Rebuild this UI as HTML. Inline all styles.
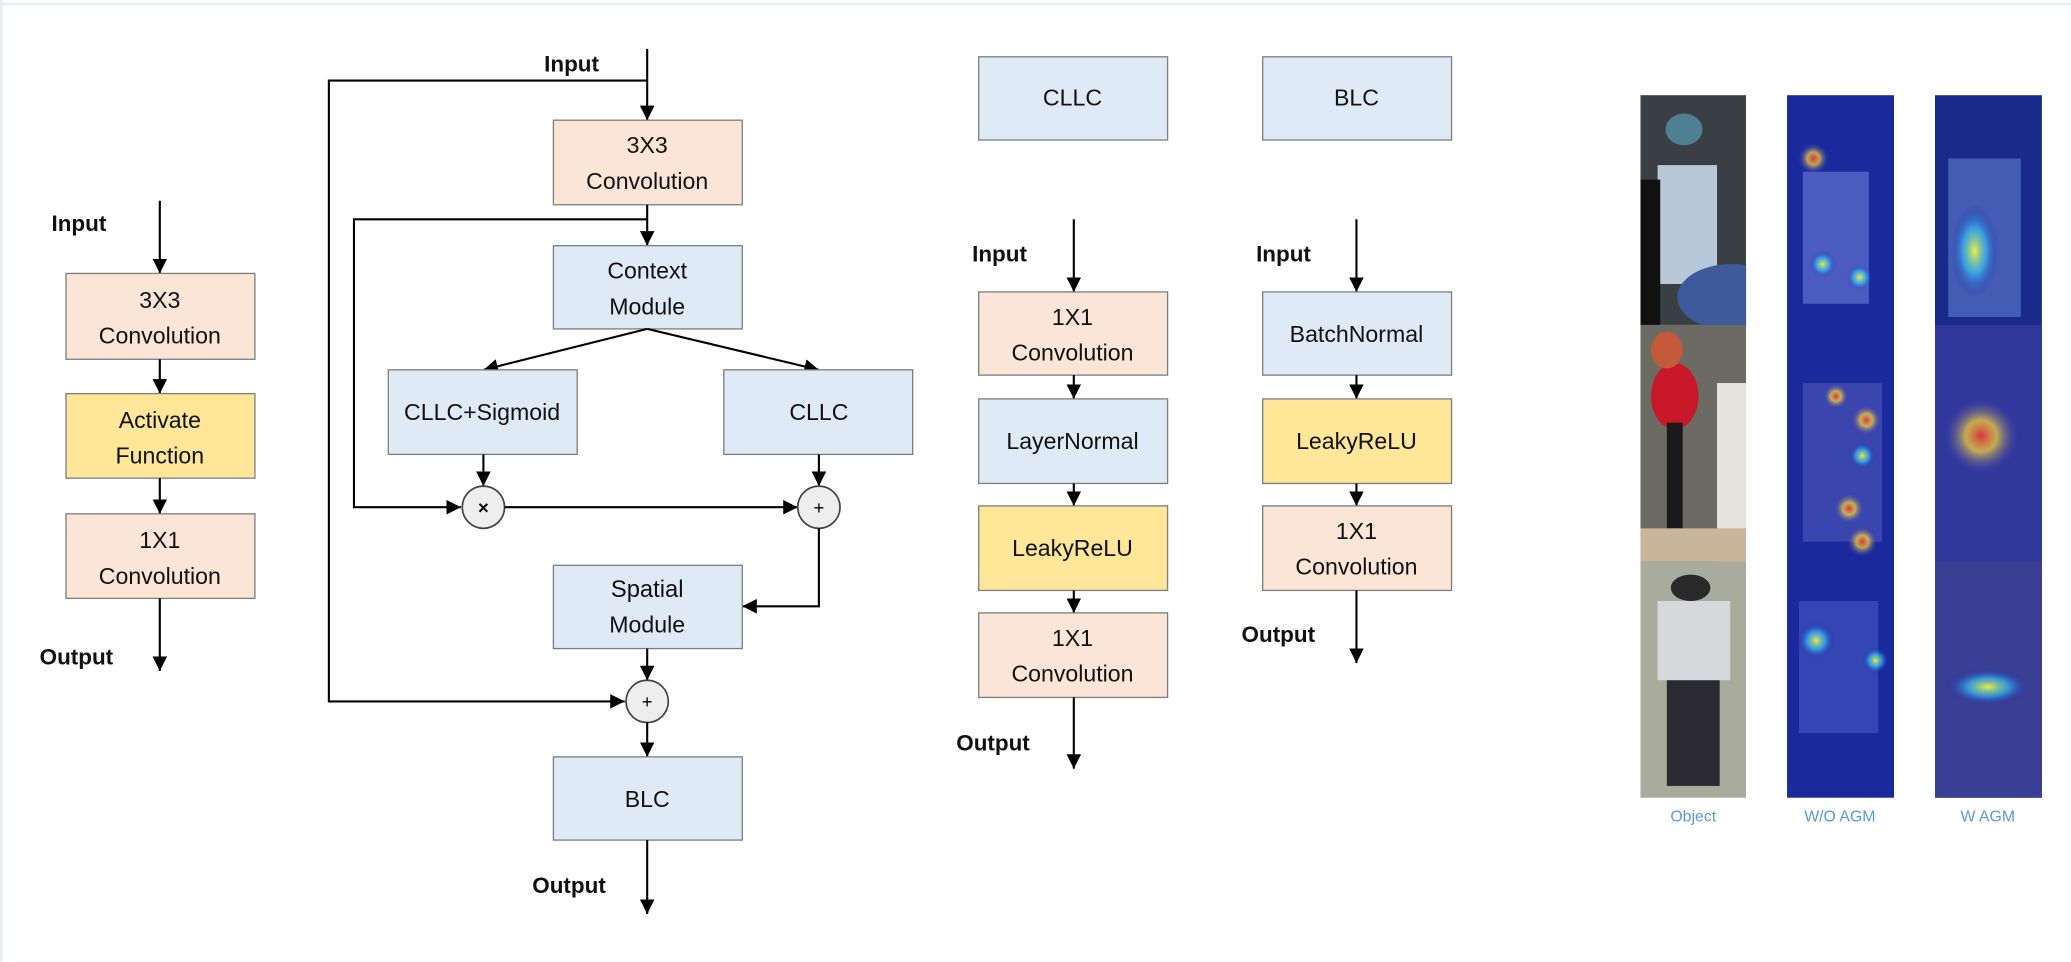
<!DOCTYPE html>
<html><head><meta charset="utf-8"><style>
html,body{margin:0;padding:0;background:#fff;}
svg{display:block;}
text{font-family:"Liberation Sans",sans-serif;}
.t{font-size:17.5px;fill:#111;text-anchor:middle;}
.b{font-size:17px;font-weight:bold;fill:#111;}
.l{stroke:#000;stroke-width:1.6;fill:none;}
.pe{fill:#fbe5d6;stroke:#7f7f7f;stroke-width:1;}
.bl{fill:#deebf7;stroke:#7f7f7f;stroke-width:1;}
.ye{fill:#ffe699;stroke:#7f7f7f;stroke-width:1;}
.c{fill:#eeeeee;stroke:#444;stroke-width:1.3;}
.cap{font-size:12px;fill:#5b9bd5;text-anchor:middle;}
</style></head><body>
<svg width="2071" height="962" viewBox="0 0 1568 728.3" preserveAspectRatio="none" xmlns="http://www.w3.org/2000/svg">
<defs>
<marker id="a" viewBox="0 0 10 10" refX="10" refY="5" markerWidth="11" markerHeight="11" markerUnits="userSpaceOnUse" orient="auto"><path d="M0,0 L10,5 L0,10 z" fill="#000"/></marker>
<radialGradient id="h1"><stop offset="0" stop-color="#ff3" stop-opacity=".9"/><stop offset=".5" stop-color="#3cf" stop-opacity=".6"/><stop offset="1" stop-color="#11a" stop-opacity="0"/></radialGradient>
<radialGradient id="h2"><stop offset="0" stop-color="#e33" stop-opacity=".9"/><stop offset=".4" stop-color="#fd3" stop-opacity=".7"/><stop offset="1" stop-color="#22c" stop-opacity="0"/></radialGradient>
<clipPath id="c1"><rect x="1242" y="72" width="80" height="532"/></clipPath>
<clipPath id="c2"><rect x="1353" y="72" width="81" height="532"/></clipPath>
<clipPath id="c3"><rect x="1465" y="72" width="81" height="532"/></clipPath>
</defs>
<rect x="0" y="0" width="1568" height="728.3" fill="#fff"/>
<line x1="0" y1="3" x2="1568" y2="3" stroke="#e8edf2" stroke-width="2"/>
<line x1="1" y1="0" x2="1" y2="728" stroke="#e8edf2" stroke-width="2"/>

<!-- Diagram 1 -->
<text class="b" x="39" y="175">Input</text>
<line class="l" x1="121" y1="152" x2="121" y2="207" marker-end="url(#a)"/>
<rect class="pe" x="50" y="207" width="143" height="65"/>
<text class="t" x="121" y="233">3X3</text><text class="t" x="121" y="260">Convolution</text>
<line class="l" x1="121" y1="272" x2="121" y2="298" marker-end="url(#a)"/>
<rect class="ye" x="50" y="298" width="143" height="64"/>
<text class="t" x="121" y="324">Activate</text><text class="t" x="121" y="351">Function</text>
<line class="l" x1="121" y1="362" x2="121" y2="389" marker-end="url(#a)"/>
<rect class="pe" x="50" y="389" width="143" height="64"/>
<text class="t" x="121" y="415">1X1</text><text class="t" x="121" y="442">Convolution</text>
<line class="l" x1="121" y1="453" x2="121" y2="508" marker-end="url(#a)"/>
<text class="b" x="30" y="503">Output</text>

<!-- Diagram 2 -->
<text class="b" x="412" y="54">Input</text>
<line class="l" x1="490" y1="37" x2="490" y2="91" marker-end="url(#a)"/>
<polyline class="l" points="490,61 249,61 249,531 473,531" marker-end="url(#a)"/>
<rect class="pe" x="419" y="91" width="143" height="64"/>
<text class="t" x="490" y="116">3X3</text><text class="t" x="490" y="143">Convolution</text>
<line class="l" x1="490" y1="155" x2="490" y2="186" marker-end="url(#a)"/>
<polyline class="l" points="490,166 268,166 268,384 349,384" marker-end="url(#a)"/>
<rect class="bl" x="419" y="186" width="143" height="63"/>
<text class="t" x="490" y="211">Context</text><text class="t" x="490" y="238">Module</text>
<line class="l" x1="490" y1="249" x2="366" y2="280" marker-end="url(#a)"/>
<line class="l" x1="490" y1="249" x2="620" y2="280" marker-end="url(#a)"/>
<rect class="bl" x="294" y="280" width="143" height="64"/>
<text class="t" x="365" y="318">CLLC+Sigmoid</text>
<rect class="bl" x="548" y="280" width="143" height="64"/>
<text class="t" x="620" y="318">CLLC</text>
<line class="l" x1="366" y1="344" x2="366" y2="368" marker-end="url(#a)"/>
<line class="l" x1="620" y1="344" x2="620" y2="368" marker-end="url(#a)"/>
<circle class="c" cx="366" cy="384" r="16"/>
<text x="366" y="389" font-size="14" font-weight="bold" text-anchor="middle">×</text>
<line class="l" x1="382" y1="384" x2="604" y2="384" marker-end="url(#a)"/>
<circle class="c" cx="620" cy="384" r="16"/>
<text x="620" y="389" font-size="14" text-anchor="middle">+</text>
<polyline class="l" points="620,400 620,459 562,459" marker-end="url(#a)"/>
<rect class="bl" x="419" y="428" width="143" height="63"/>
<text x="490" y="452" font-size="18" font-family="Liberation Mono,monospace" text-anchor="middle" fill="#111">Spatial</text><text class="t" x="490" y="479">Module</text>
<line class="l" x1="490" y1="491" x2="490" y2="515" marker-end="url(#a)"/>
<circle class="c" cx="490" cy="531" r="16"/>
<text x="490" y="536" font-size="14" text-anchor="middle">+</text>
<line class="l" x1="490" y1="547" x2="490" y2="573" marker-end="url(#a)"/>
<rect class="bl" x="419" y="573" width="143" height="63"/>
<text class="t" x="490" y="611">BLC</text>
<line class="l" x1="490" y1="636" x2="490" y2="692" marker-end="url(#a)"/>
<text class="b" x="403" y="676">Output</text>

<!-- Diagram 3 -->
<rect class="bl" x="741" y="43" width="143" height="63"/>
<text class="t" x="812" y="80">CLLC</text>
<rect class="bl" x="956" y="43" width="143" height="63"/>
<text class="t" x="1027" y="80">BLC</text>

<text class="b" x="736" y="198">Input</text>
<line class="l" x1="813" y1="166" x2="813" y2="221" marker-end="url(#a)"/>
<rect class="pe" x="741" y="221" width="143" height="63"/>
<text class="t" x="812" y="246">1X1</text><text class="t" x="812" y="273">Convolution</text>
<line class="l" x1="813" y1="284" x2="813" y2="302" marker-end="url(#a)"/>
<rect class="bl" x="741" y="302" width="143" height="64"/>
<text class="t" x="812" y="340">LayerNormal</text>
<line class="l" x1="813" y1="366" x2="813" y2="383" marker-end="url(#a)"/>
<rect class="ye" x="741" y="383" width="143" height="64"/>
<text class="t" x="812" y="421">LeakyReLU</text>
<line class="l" x1="813" y1="447" x2="813" y2="464" marker-end="url(#a)"/>
<rect class="pe" x="741" y="464" width="143" height="64"/>
<text class="t" x="812" y="489">1X1</text><text class="t" x="812" y="516">Convolution</text>
<line class="l" x1="813" y1="528" x2="813" y2="582" marker-end="url(#a)"/>
<text class="b" x="724" y="568">Output</text>

<text class="b" x="951" y="198">Input</text>
<line class="l" x1="1027" y1="166" x2="1027" y2="221" marker-end="url(#a)"/>
<rect class="bl" x="956" y="221" width="143" height="63"/>
<text class="t" x="1027" y="259">BatchNormal</text>
<line class="l" x1="1027" y1="284" x2="1027" y2="302" marker-end="url(#a)"/>
<rect class="ye" x="956" y="302" width="143" height="64"/>
<text class="t" x="1027" y="340">LeakyReLU</text>
<line class="l" x1="1027" y1="366" x2="1027" y2="383" marker-end="url(#a)"/>
<rect class="pe" x="956" y="383" width="143" height="64"/>
<text class="t" x="1027" y="408">1X1</text><text class="t" x="1027" y="435">Convolution</text>
<line class="l" x1="1027" y1="447" x2="1027" y2="502" marker-end="url(#a)"/>
<text class="b" x="940" y="486">Output</text>

<!-- Object column -->
<g clip-path="url(#c1)">
<rect x="1242" y="72" width="80" height="174" fill="#3a3f44"/>
<rect x="1255" y="125" width="45" height="90" fill="#b8c8d8"/>
<ellipse cx="1275" cy="98" rx="14" ry="12" fill="#4f7f95"/>
<ellipse cx="1310" cy="225" rx="40" ry="25" fill="#3d5a9a"/>
<rect x="1242" y="136" width="15" height="110" fill="#111"/>
<rect x="1242" y="246" width="80" height="179" fill="#6b6b63"/>
<rect x="1300" y="290" width="22" height="135" fill="#e6e3dc"/>
<ellipse cx="1268" cy="300" rx="18" ry="25" fill="#c8182a"/>
<ellipse cx="1262" cy="265" rx="12" ry="14" fill="#c45a3a"/>
<rect x="1262" y="320" width="12" height="80" fill="#1a1a1a"/>
<rect x="1242" y="400" width="80" height="25" fill="#c9b59a"/>
<rect x="1242" y="425" width="80" height="179" fill="#a9ab9c"/>
<rect x="1255" y="455" width="55" height="60" fill="#d6d8dc"/>
<ellipse cx="1280" cy="445" rx="15" ry="10" fill="#2a2a2a"/>
<rect x="1262" y="515" width="40" height="80" fill="#2a2a30"/>
</g>
<!-- W/O AGM -->
<g clip-path="url(#c2)">
<rect x="1353" y="72" width="81" height="532" fill="#1a2a9c"/>
<rect x="1365" y="130" width="50" height="100" fill="#6a7fd8" opacity=".6"/>
<rect x="1365" y="290" width="60" height="120" fill="#5a60c0" opacity=".5"/>
<rect x="1362" y="455" width="60" height="100" fill="#5060c8" opacity=".5"/>
<circle cx="1373" cy="120" r="12" fill="url(#h2)"/>
<circle cx="1380" cy="200" r="10" fill="url(#h1)"/>
<circle cx="1408" cy="210" r="10" fill="url(#h1)"/>
<circle cx="1390" cy="300" r="10" fill="url(#h2)"/>
<circle cx="1413" cy="318" r="12" fill="url(#h2)"/>
<circle cx="1410" cy="345" r="10" fill="url(#h1)"/>
<circle cx="1400" cy="385" r="12" fill="url(#h2)"/>
<circle cx="1410" cy="410" r="12" fill="url(#h2)"/>
<circle cx="1375" cy="485" r="14" fill="url(#h1)"/>
<circle cx="1420" cy="500" r="10" fill="url(#h1)"/>
</g>
<!-- W AGM -->
<g clip-path="url(#c3)">
<rect x="1465" y="72" width="81" height="532" fill="#1a2a8a"/>
<rect x="1475" y="120" width="55" height="120" fill="#5f7fd0" opacity=".6"/>
<ellipse cx="1495" cy="190" rx="18" ry="35" fill="url(#h1)"/>
<rect x="1465" y="246" width="81" height="179" fill="#30389a"/>
<ellipse cx="1500" cy="330" rx="30" ry="30" fill="url(#h2)"/>
<rect x="1465" y="425" width="81" height="179" fill="#3a3f94"/>
<ellipse cx="1505" cy="520" rx="32" ry="14" fill="url(#h1)"/>
</g>
<text class="cap" x="1282" y="622">Object</text>
<text class="cap" x="1393" y="622">W/O AGM</text>
<text class="cap" x="1505" y="622">W AGM</text>
</svg>
</body></html>
